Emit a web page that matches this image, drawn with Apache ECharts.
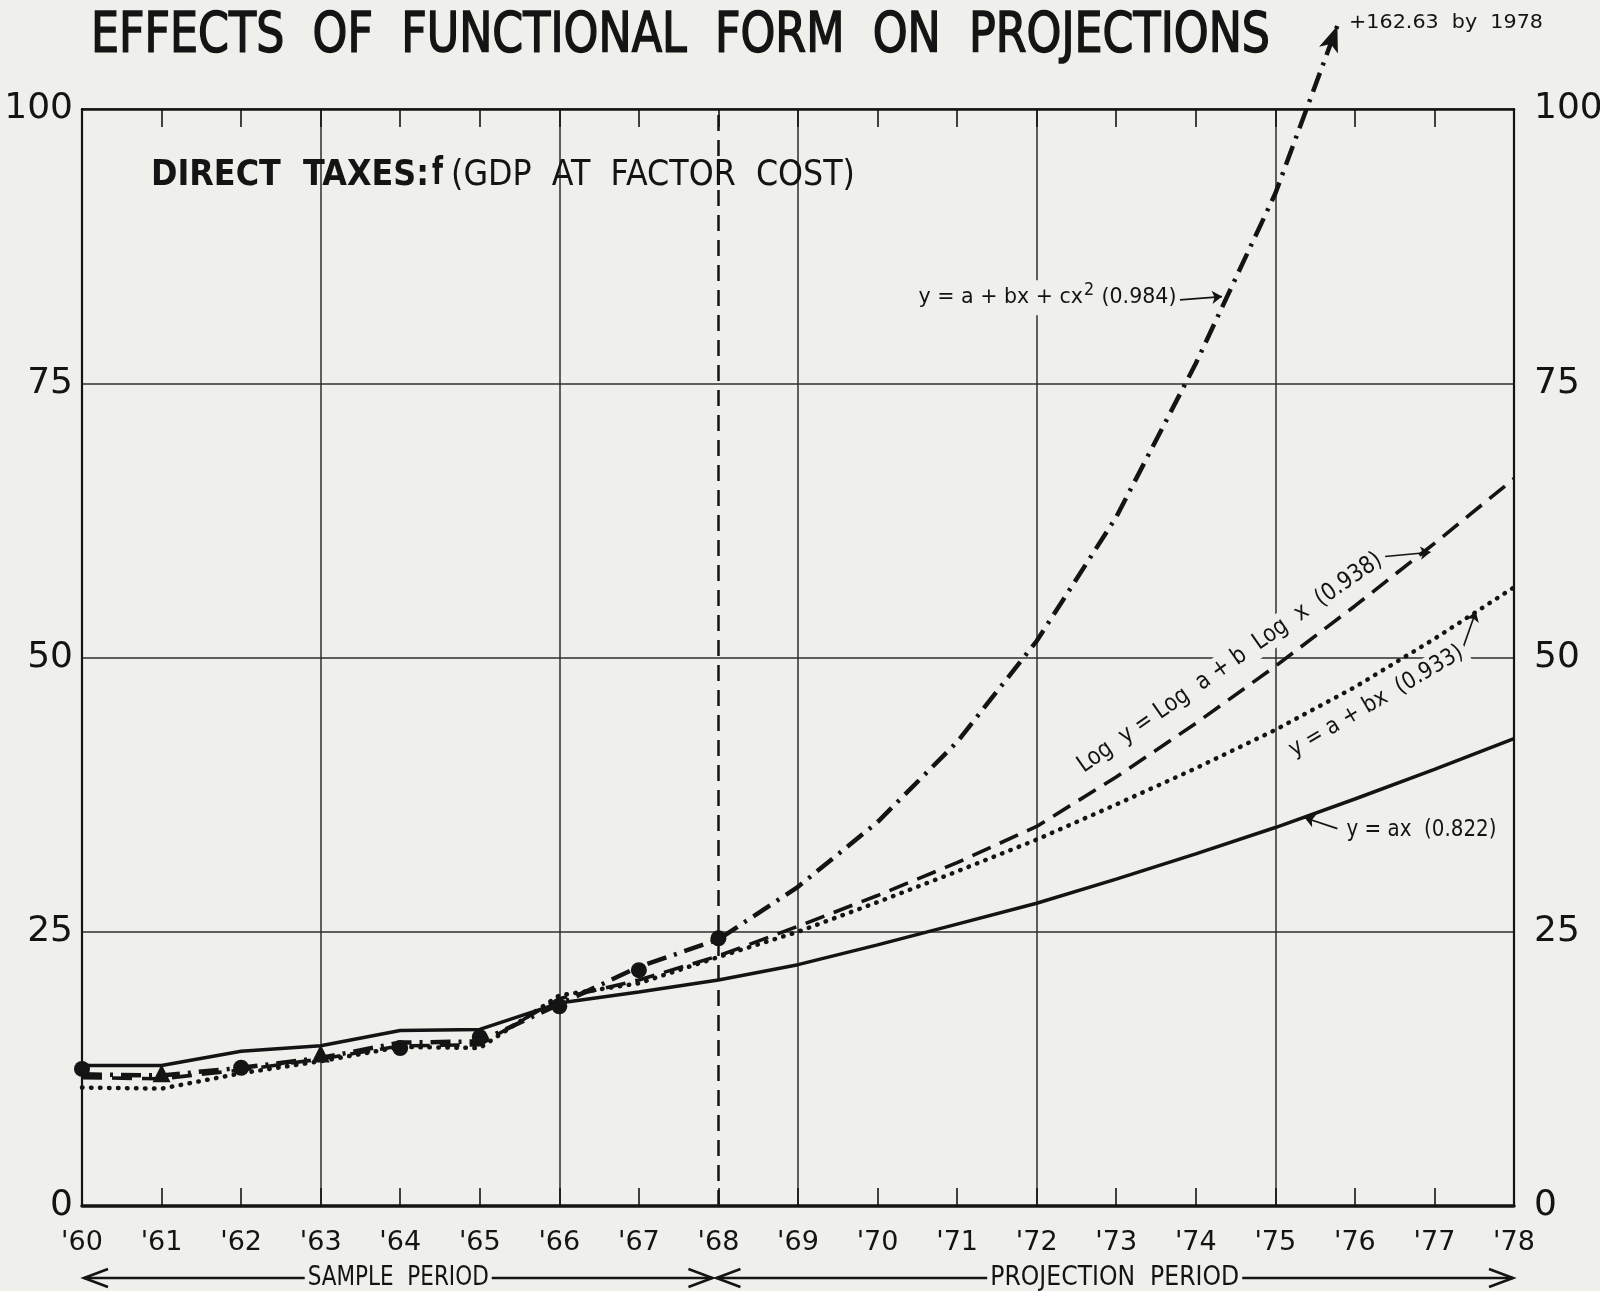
<!DOCTYPE html>
<html>
<head>
<meta charset="utf-8">
<title>Effects of functional form on projections</title>
<script src="https://cdn.jsdelivr.net/npm/echarts@6.0.0/dist/echarts.min.js"></script>
<style>
html, body { margin:0; padding:0; background:#efefeb; }
#chart { width:1600px; height:1291px; }
</style>
</head>
<body>
<div id="chart"></div>
<script>
// ---------------- data ----------------
const years      = [60,61,62,63,64,65,66,67,68,69,70,71,72,73,74,75,76,77,78];
const propFit    = [12.8,12.8,14.1,14.6,16.0,16.1,18.5,19.5,20.6,22.0,23.8,25.7,27.6,29.8,32.1,34.5,37.1,39.8,42.6]; // y = ax
const linearFit  = [10.8,10.7,12.1,13.2,14.5,14.4,19.2,20.3,22.7,25.0,27.7,30.5,33.4,36.6,39.9,43.4,47.3,51.7,56.4]; // y = a + bx
const logFit     = [11.7,11.6,12.4,13.4,14.6,14.7,18.9,20.6,22.8,25.5,28.3,31.3,34.6,39.1,44.0,49.2,54.7,60.4,66.3]; // log-log
const quadYears  = [60,61,62,63,64,65,66,67,68,69,70,71,72,73,74,75];
const quadFit    = [12.0,11.9,12.6,13.5,14.9,15.0,18.4,21.8,24.3,29.1,35.0,42.3,51.5,62.8,76.8,92.3]; // quadratic
const quadTail   = [75.78, 107.6];
const quadTailText = '+162.63  by  1978';
const actualYears = [60,61,62,63,64,65,66,67,68];
const actual      = [12.5,12.1,12.6,13.9,14.4,15.4,18.2,21.5,24.4];
const actualShape = ['circle','triangle','circle','triangle','circle','circle','circle','circle','circle'];
const yTicks = [0,25,50,75,100];
const dividerYear = 68;
const titleText = 'EFFECTS  OF  FUNCTIONAL  FORM  ON  PROJECTIONS';
const subtitleBold = 'DIRECT  TAXES:';
const subtitleF = 'f';
const subtitleRest = '(GDP  AT  FACTOR  COST)';
const sampleText = 'SAMPLE  PERIOD';
const projText = 'PROJECTION  PERIOD';
const quadText = ['y = a + bx + cx', '2', ' (0.984)'];
const logText = 'Log  y = Log  a + b  Log  x  (0.938)';
const linText = 'y = a + bx  (0.933)';
const propText = 'y = ax  (0.822)';

// ---------------- style ----------------
const INK = '#141414';
const GRIDC = '#2e2e2e';
const PAPER = '#efefeb';
const FONT = "'DejaVu Sans', 'Noto Sans', sans-serif";

const pairs = (xs, ys) => xs.map((x, i) => [x, ys[i]]);

// annotation anchor positions (data space)
const pos = {
  quadLabel: [70.48, 82.8],
  quadArrow: [[73.8, 82.6], [74.33, 82.9]],
  logLabel: [74.43, 49.5],
  logArrow: [[76.38, 59.2], [76.95, 59.6]],
  linLabel: [76.27, 46.0],
  linArrow: [[77.36, 50.9], [77.52, 54.2]],
  propLabel: [75.84, 34.3],
  propArrow: [[75.78, 34.4], [75.37, 35.4]]
};

const chart = echarts.init(document.getElementById('chart'), null, {renderer: 'canvas', width: 1600, height: 1291});

const option = {
  animation: false,
  backgroundColor: PAPER,
  textStyle: {fontFamily: FONT, color: INK},
  grid: {left: 82, right: 86, top: 109, bottom: 85, outerBoundsMode: 'none'},
  xAxis: [
    {
      type: 'value', min: 60, max: 78, interval: 1, position: 'bottom',
      axisLine: {show: true, onZero: false, lineStyle: {color: INK, width: 3.5}},
      axisTick: {show: true, inside: true, length: 18, lineStyle: {color: INK, width: 1.6}},
      axisLabel: {show: true, margin: 23, fontSize: 27, color: INK, fontFamily: FONT,
        formatter: v => "'" + v},
      splitLine: {show: false}
    },
    {
      type: 'value', min: 60, max: 78, interval: 1, position: 'top',
      axisLine: {show: true, onZero: false, lineStyle: {color: INK, width: 2.5}},
      axisTick: {show: true, inside: true, length: 18, lineStyle: {color: INK, width: 1.6}},
      axisLabel: {show: false},
      splitLine: {show: false}
    },
    {
      type: 'value', min: 60, max: 78, interval: 3, position: 'bottom',
      axisLine: {show: false}, axisTick: {show: false}, axisLabel: {show: false},
      splitLine: {show: true, lineStyle: {color: GRIDC, width: 1.5}}
    }
  ],
  yAxis: [
    {
      type: 'value', min: 0, max: 100, interval: 25, position: 'left',
      axisLine: {show: true, onZero: false, lineStyle: {color: INK, width: 2.2}},
      axisTick: {show: false},
      axisLabel: {margin: 9, fontSize: 36, color: INK, fontFamily: FONT,
        formatter: v => yTicks.indexOf(v) >= 0 ? String(v) : ''},
      splitLine: {show: true, lineStyle: {color: GRIDC, width: 1.5}}
    },
    {
      type: 'value', min: 0, max: 100, interval: 25, position: 'right',
      axisLine: {show: true, onZero: false, lineStyle: {color: INK, width: 2.2}},
      axisTick: {show: false},
      axisLabel: {margin: 20, fontSize: 36, color: INK, fontFamily: FONT,
        formatter: v => yTicks.indexOf(v) >= 0 ? String(v) : ''},
      splitLine: {show: false}
    }
  ],
  series: [
    {
      name: 'y = a + bx', type: 'line', data: pairs(years, linearFit),
      symbol: 'none', z: 3,
      lineStyle: {color: INK, width: 4.5, type: [0.5, 8.5], cap: 'round'},
      markLine: {
        silent: true, symbol: 'none', label: {show: false}, animation: false,
        lineStyle: {color: INK, width: 2.5, type: [16, 9]},
        data: [{xAxis: dividerYear}]
      }
    },
    {
      name: 'Log y = Log a + b Log x', type: 'line', data: pairs(years, logFit),
      symbol: 'none', z: 4,
      lineStyle: {color: INK, width: 3.6, type: [20, 10]}
    },
    {
      name: 'y = a + bx + cx2', type: 'line', clip: false, z: 5,
      data: pairs(quadYears, quadFit).concat([{
        value: quadTail, symbol: 'arrow', symbolSize: [15, 26], symbolRotate: -20,
        itemStyle: {color: INK, opacity: 1}
      }]),
      symbol: 'none', showSymbol: true,
      lineStyle: {color: INK, width: 4.5, type: [20, 8, 3, 8]}
    },
    {
      name: 'y = ax', type: 'line', data: pairs(years, propFit),
      symbol: 'none', z: 6,
      lineStyle: {color: INK, width: 3.5},
      markLine: {
        silent: true, animation: false, symbol: ['none', 'arrow'], symbolSize: 10,
        label: {show: false},
        lineStyle: {color: INK, width: 1.6, type: 'solid'},
        data: [
          [{coord: pos.quadArrow[0]}, {coord: pos.quadArrow[1]}],
          [{coord: pos.logArrow[0], lineStyle: {curveness: 0.15}}, {coord: pos.logArrow[1], lineStyle: {curveness: 0.15}}],
          [{coord: pos.linArrow[0], lineStyle: {curveness: -0.35}}, {coord: pos.linArrow[1], lineStyle: {curveness: -0.35}}],
          [{coord: pos.propArrow[0], lineStyle: {curveness: 0.25}}, {coord: pos.propArrow[1], lineStyle: {curveness: 0.25}}]
        ]
      }
    },
    {
      name: 'actual', type: 'scatter', z: 8,
      data: actualYears.map((x, i) => ({
        value: [x, actual[i]], symbol: actualShape[i],
        symbolSize: actualShape[i] === 'triangle' ? 18 : 16
      })),
      itemStyle: {color: INK, opacity: 1}
    }
  ]
};

chart.setOption(option);

// ---------- text annotations ----------
const ctx = document.createElement('canvas').getContext('2d');
function measure(text, size, weight) {
  ctx.font = (weight || 'normal') + ' ' + size + 'px ' + FONT;
  return ctx.measureText(text).width;
}
function textEl(o) {
  const w = measure(o.text, o.size, o.weight);
  const sx = o.width ? o.width / w : 1;
  const st = {
    text: o.text, fontSize: o.size, fontWeight: o.weight || 'normal', fontFamily: FONT, fill: INK,
    textAlign: o.align || 'left', align: o.align || 'left',
    textVerticalAlign: 'middle', verticalAlign: 'middle'
  };
  if (o.stroke) { st.stroke = INK; st.lineWidth = o.stroke; }
  if (o.bg) { st.backgroundColor = PAPER; st.padding = [2, 5]; }
  return {type: 'text', x: o.x, y: o.y, scaleX: sx, rotation: (o.rotation || 0) * Math.PI / 180, z: 50, style: st};
}
const P = c => chart.convertToPixel({seriesIndex: 0}, c);

const g = [];
g.push(textEl({text: titleText, x: 91, y: 37, size: 55, weight: 'normal', width: 1179, stroke: 1.6}));
g.push(textEl({text: subtitleBold, x: 151, y: 176, size: 35, weight: 'bold', width: 278}));
g.push(textEl({text: subtitleF, x: 432, y: 174, size: 37, weight: 'bold', width: 11}));
g.push(textEl({text: subtitleRest, x: 451, y: 176, size: 35, weight: 'normal', width: 404}));
g.push(textEl({text: quadTailText, x: 1349, y: 23, size: 19, weight: 'normal', width: 194}));

// quadratic label with superscript
(function () {
  const p = P(pos.quadLabel);
  const w = measure(quadText[0], 22) + measure(quadText[1], 17) + measure(quadText[2], 22);
  g.push({
    type: 'text', x: p[0], y: p[1], scaleX: 256 / w, z: 50,
    style: {
      text: quadText[0] + '{s|' + quadText[1] + '}' + quadText[2],
      fontSize: 22, fontFamily: FONT, fill: INK,
      textAlign: 'left', align: 'left', textVerticalAlign: 'middle', verticalAlign: 'middle',
      backgroundColor: PAPER, padding: [2, 3],
      rich: {s: {fontSize: 17, fontFamily: FONT, fill: INK, padding: [0, 1, 14, 1]}}
    }
  });
})();

let p = P(pos.logLabel);
g.push(textEl({text: logText, x: p[0], y: p[1], size: 24, align: 'center', rotation: 35, width: 366, bg: true}));
p = P(pos.linLabel);
g.push(textEl({text: linText, x: p[0], y: p[1], size: 23, align: 'center', rotation: 30.5, width: 198, bg: true}));
p = P(pos.propLabel);
g.push(textEl({text: propText, x: p[0], y: p[1], size: 23, align: 'left', width: 150, bg: true}));

// period arrows under the axis
const x60 = P([60, 0])[0], x68 = P([dividerYear, 0])[0], x78 = P([78, 0])[0];
const by = P([60, 0])[1] + 72;
function periodArrow(x1, x2, label, labelW) {
  const cx = (x1 + x2) / 2;
  const half = labelW / 2 + 3;
  const ls = {stroke: INK, lineWidth: 2.4};
  g.push({type: 'line', z: 40, shape: {x1: x1, y1: by, x2: cx - half, y2: by}, style: ls});
  g.push({type: 'line', z: 40, shape: {x1: cx + half, y1: by, x2: x2, y2: by}, style: ls});
  g.push({type: 'polyline', z: 40, shape: {points: [[x1 + 24, by - 9], [x1, by], [x1 + 24, by + 9]]}, style: {stroke: INK, lineWidth: 2.6, fill: null}});
  g.push({type: 'polyline', z: 40, shape: {points: [[x2 - 24, by - 9], [x2, by], [x2 - 24, by + 9]]}, style: {stroke: INK, lineWidth: 2.6, fill: null}});
  g.push(textEl({text: label, x: cx, y: by, size: 26, align: 'center', width: labelW}));
}
periodArrow(x60 + 2, x68 - 6, sampleText, 181);
periodArrow(x68 - 2, x78 - 1, projText, 249);

chart.setOption({graphic: g});
</script>
</body>
</html>
